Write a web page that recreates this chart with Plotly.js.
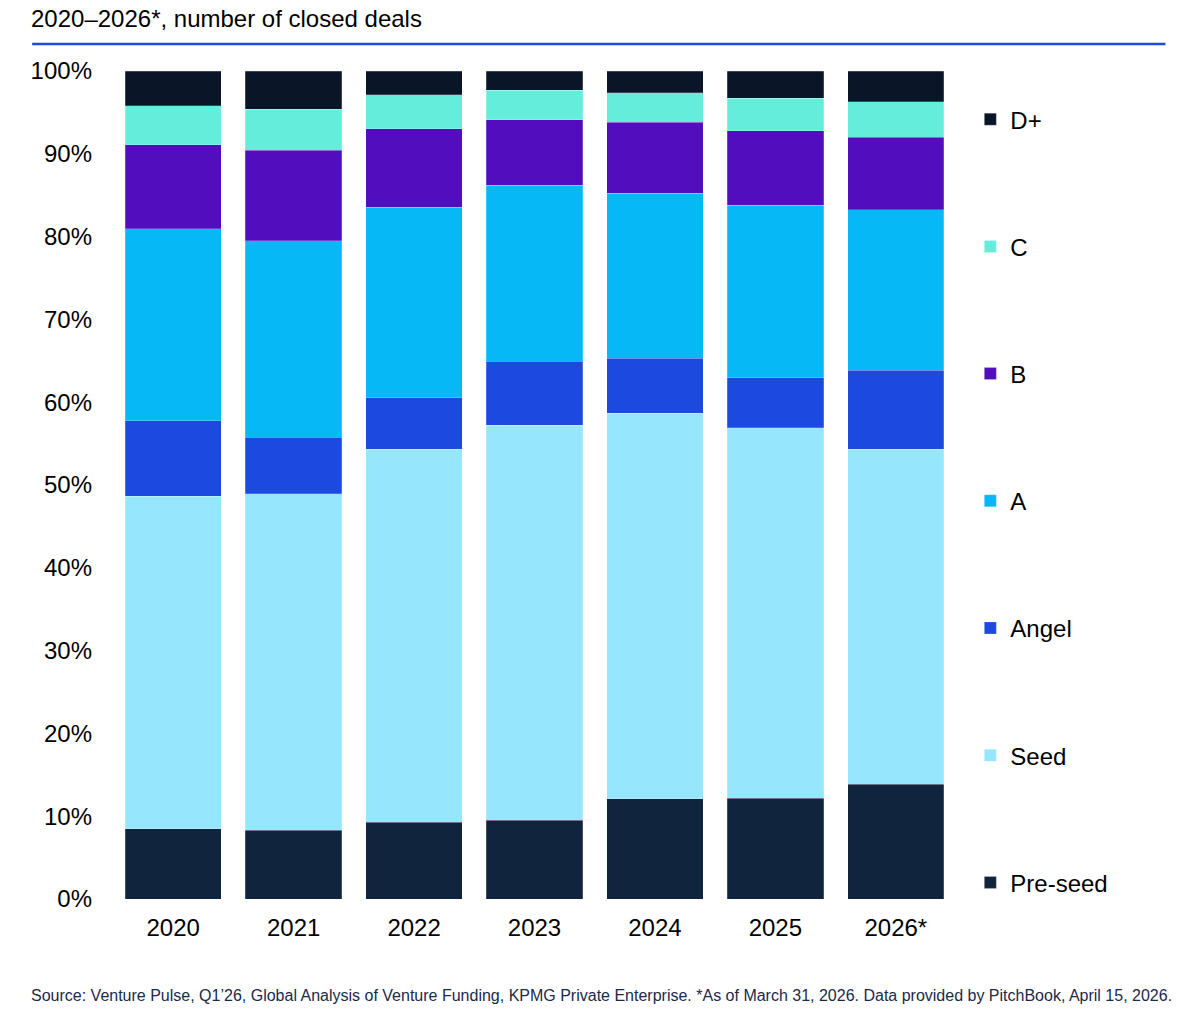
<!DOCTYPE html>
<html>
<head>
<meta charset="utf-8">
<script src="https://cdn.plot.ly/plotly-3.0.1.min.js"></script>
<style>
  html, body { margin: 0; padding: 0; background: #fff; }
  #chart { width: 1194px; height: 1010px; }
</style>
</head>
<body>
<div id="chart"></div>
<script>
var years = ['2020', '2021', '2022', '2023', '2024', '2025', '2026*']

// share of closed deals by stage, %
var pre_seed = [8.5, 8.3, 9.3, 9.5, 12.1, 12.2, 13.9]
var seed     = [40.2, 40.7, 45.1, 47.8, 46.6, 44.8, 40.5]
var angel    = [9.1, 6.8, 6.2, 7.7, 6.7, 6.0, 9.5]
var series_a = [23.2, 23.8, 23.0, 21.3, 19.9, 20.9, 19.4]
var series_b = [10.2, 10.9, 9.5, 7.9, 8.6, 9.0, 8.8]
var series_c = [4.7, 5.0, 4.1, 3.6, 3.6, 3.9, 4.3]
var series_d = [4.2, 4.6, 2.9, 2.3, 2.6, 3.3, 3.7]

var stages = [
    { name: 'Pre-seed', y: pre_seed, color: '#10243d' },
    { name: 'Seed', y: seed, color: '#96e6fd' },
    { name: 'Angel', y: angel, color: '#1c49e0' },
    { name: 'A', y: series_a, color: '#06b8f6' },
    { name: 'B', y: series_b, color: '#520ebe' },
    { name: 'C', y: series_c, color: '#64edda' },
    { name: 'D+', y: series_d, color: '#0a1628' },
]

var trace_data = stages.map(function (s, i) {
    return {
        x: years,
        y: s.y,
        name: s.name,
        type: 'bar',
        legendgroup: s.name,
        legendrank: stages.length - i,
        marker: {
            color: s.color,
            line: { color: 'rgba(255,255,255,0.35)', width: 0.6 }
        },
        hoverinfo: 'x+y+name'
    }
})

var font_family = 'Liberation Sans, Arial, sans-serif'

var layout = {
    width: 1194,
    height: 1010,
    margin: { l: 113, r: 238, t: 71, b: 111 },
    paper_bgcolor: '#ffffff',
    plot_bgcolor: '#ffffff',
    barmode: 'stack',
    barnorm: 'percent',
    bargap: 0.2,
    font: { family: font_family, size: 24, color: '#000000' },
    showlegend: true,
    legend: {
        traceorder: 'grouped',
        tracegroupgap: 93,
        x: 1.017,
        xanchor: 'left',
        y: 0.9685,
        yanchor: 'top',
        font: { family: font_family, size: 24, color: '#000000' },
        itemclick: false
    },
    xaxis: {
        type: 'category',
        showgrid: false,
        showline: false,
        zeroline: false,
        ticks: '',
        ticklabelstandoff: 12,
        tickfont: { family: font_family, size: 24, color: '#000000' }
    },
    yaxis: {
        range: [0, 100],
        dtick: 10,
        ticksuffix: '%',
        showgrid: false,
        showline: false,
        zeroline: false,
        ticks: '',
        ticklabelstandoff: 20,
        tickfont: { family: font_family, size: 24, color: '#000000' }
    },
    shapes: [{
        type: 'line',
        xref: 'paper', yref: 'paper',
        x0: -0.0959, x1: 1.2485,
        y0: 1.0326, y1: 1.0326,
        line: { color: '#1e49e2', width: 2.5 }
    }],
    annotations: [
        {
            text: '2020–2026*, number of closed deals',
            xref: 'paper', yref: 'paper',
            x: -0.0995, y: 1.064,
            xanchor: 'left', yanchor: 'middle',
            showarrow: false,
            font: { family: font_family, size: 24, color: '#000000' }
        },
        {
            text: 'Source: Venture Pulse, Q1’26, Global Analysis of Venture Funding, KPMG Private Enterprise. *As of March 31, 2026. Data provided by PitchBook, April 15, 2026.',
            xref: 'paper', yref: 'paper',
            x: -0.0995, y: -0.1167,
            xanchor: 'left', yanchor: 'middle',
            showarrow: false,
            font: { family: font_family, size: 16, color: '#1a2a4a' }
        }
    ]
}

var plotly_config = {
    displaylogo: false,
    displayModeBar: false,
    responsive: false
}

Plotly.newPlot('chart', trace_data, layout, plotly_config)
</script>
</body>
</html>
